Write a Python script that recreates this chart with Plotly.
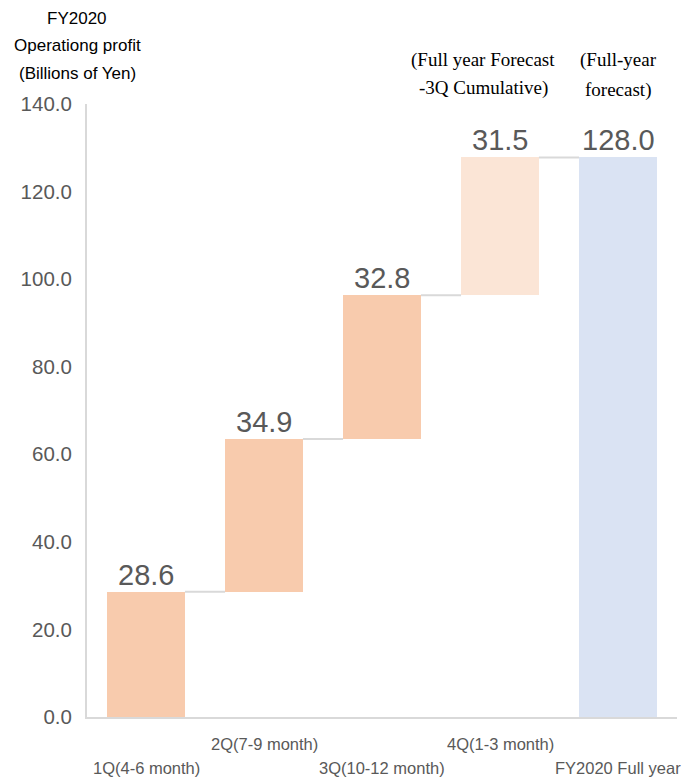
import plotly.graph_objects as go

# Quarterly operating profit (billions of yen) and full-year forecast
categories = ["1Q(4-6 month)", "2Q(7-9 month)", "3Q(10-12 month)", "4Q(1-3 month)", "FY2020 Full year"]
increments = [28.6, 34.9, 32.8, 31.5]
full_year = 128.0
bar_colors = ["#F8CBAD", "#F8CBAD", "#F8CBAD", "#FBE5D6", "#DAE3F3"]
tick_values = [0, 20, 40, 60, 80, 100, 120, 140]
tick_labels = ["0.0", "20.0", "40.0", "60.0", "80.0", "100.0", "120.0", "140.0"]

# floating bars: each quarter starts where the previous one ended
bases = []
running = 0.0
for v in increments:
    bases.append(running)
    running += v
heights = increments + [full_year]
bases = bases + [0.0]
tops = [b + h for b, h in zip(bases, heights)]

LABEL_GREY = "#595959"
LINE_GREY = "#D9D9D9"
BAR_W = 0.66

fig = go.Figure(
    go.Bar(
        x=list(range(len(categories))),
        y=heights,
        base=bases,
        width=BAR_W,
        marker=dict(color=bar_colors, line=dict(width=0)),
        hoverinfo="skip",
    )
)

# connector lines between consecutive bars
for i in range(len(categories) - 1):
    fig.add_shape(
        type="line", xref="x", yref="y",
        x0=i + BAR_W / 2, x1=i + 1 - BAR_W / 2,
        y0=tops[i], y1=tops[i],
        line=dict(color=LINE_GREY, width=2),
    )

annotations = []
# value labels above each bar
for i, h in enumerate(heights):
    annotations.append(dict(
        x=i, y=tops[i], xref="x", yref="y", text=f"{h:.1f}",
        showarrow=False, yanchor="bottom", yshift=-1,
        font=dict(family="Liberation Sans", size=29, color=LABEL_GREY),
    ))

# staggered category labels below the axis
for i, c in enumerate(categories):
    annotations.append(dict(
        x=i, y=0, xref="x", yref="paper", text=c,
        showarrow=False, yanchor="middle",
        yshift=-51 if i % 2 == 0 else -27,
        font=dict(family="Liberation Sans", size=16.5, color=LABEL_GREY),
    ))

# axis title block, top left
for txt, ypx in [("FY2020", 18), ("Operationg profit", 46), ("(Billions of Yen)", 73)]:
    annotations.append(dict(
        x=77, y=778 - ypx, xref="paper", yref="paper", text=txt, showarrow=False,
        xanchor="center", yanchor="middle",
        font=dict(family="Liberation Sans", size=17, color="#000000"),
    ))

# forecast notes above the last two bars
for txt, xc, dx, ypx in [
    ("(Full year Forecast", 3, -17, 60), ("-3Q Cumulative)", 3, -17, 88),
    ("(Full-year", 4, 0, 60), ("forecast)", 4, 0, 90),
]:
    annotations.append(dict(
        x=xc, y=1, xref="x", yref="paper", text=txt, showarrow=False,
        xanchor="center", yanchor="middle", yshift=104 - ypx, xshift=dx,
        font=dict(family="Liberation Serif", size=19, color="#000000"),
    ))

# convert pixel-based paper positions for the title block
plot_w = 685 - 87 - 8
plot_h = 778 - 104 - 61
for a in annotations:
    if a["xref"] == "paper" and a["x"] > 1:
        a["x"] = (a["x"] - 87) / plot_w
        a["y"] = (a["y"] - 61) / plot_h

fig.update_layout(
    width=685, height=778,
    margin=dict(l=87, r=8, t=104, b=61),
    paper_bgcolor="white", plot_bgcolor="white",
    showlegend=False,
    bargap=0,
    annotations=annotations,
    xaxis=dict(
        range=[-0.5, len(categories) - 0.5],
        showticklabels=False, ticks="",
        showgrid=False, zeroline=False,
        showline=True, linecolor=LINE_GREY, linewidth=2,
        fixedrange=True,
    ),
    yaxis=dict(
        range=[0, 140],
        tickvals=tick_values, ticktext=tick_labels,
        tickfont=dict(family="Liberation Sans", size=20.5, color=LABEL_GREY),
        ticks="", ticklabelstandoff=9,
        showgrid=False, zeroline=False,
        showline=True, linecolor=LINE_GREY, linewidth=2,
        fixedrange=True,
    ),
)

fig.write_html("out.html")
